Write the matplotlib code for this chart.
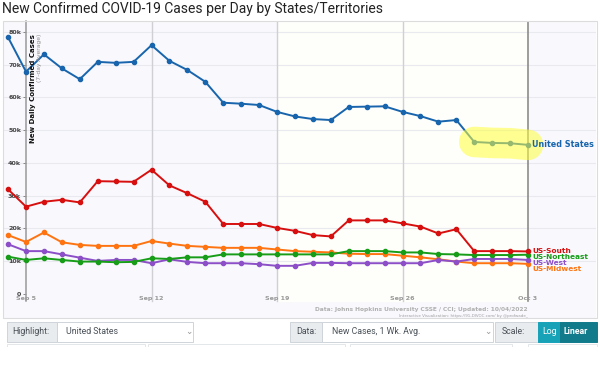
import numpy as np
import pandas as pd
import matplotlib
matplotlib.use('Agg')
import matplotlib.pyplot as plt
import matplotlib.dates as mdates
from matplotlib.patches import Rectangle

# Dades llegides del grafic (mitjana de 7 dies, nous casos per dia)
dates = pd.date_range('2022-09-04', '2022-10-03', freq='D')

us = [78.4, 67.9, 73.2, 68.9, 65.6, 70.9, 70.6, 70.9, 76.0, 71.2,
      68.4, 64.8, 58.4, 58.1, 57.7, 55.6, 54.2, 53.4, 53.1, 57.1,
      57.2, 57.3, 55.6, 54.3, 52.6, 53.1, 46.4, 46.1, 46.0, 45.5]
south = [31.9, 26.6, 28.1, 28.7, 27.9, 34.4, 34.3, 34.2, 37.9, 33.1,
         30.7, 28.1, 21.3, 21.3, 21.3, 20.1, 19.2, 17.9, 17.5, 22.4,
         22.4, 22.4, 21.5, 20.5, 18.4, 19.7, 13.0, 13.0, 13.0, 12.9]
northeast = [11.3, 10.3, 10.8, 10.3, 9.8, 9.8, 9.6, 9.7, 10.8, 10.6,
             11.1, 11.1, 12.0, 12.0, 12.0, 12.0, 12.0, 12.0, 12.0, 13.0,
             13.0, 13.0, 12.6, 12.6, 12.1, 12.0, 11.8, 11.8, 11.8, 11.9]
west = [15.1, 13.0, 13.0, 12.0, 11.0, 10.0, 10.3, 10.3, 9.3, 10.5,
        9.7, 9.3, 9.3, 9.3, 9.0, 8.5, 8.5, 9.4, 9.4, 9.3,
        9.3, 9.3, 9.3, 9.3, 10.3, 9.8, 10.6, 10.6, 10.6, 10.3]
midwest = [17.9, 15.8, 18.7, 15.7, 14.9, 14.6, 14.6, 14.6, 16.1, 15.3,
           14.6, 14.3, 14.0, 14.0, 14.0, 13.5, 13.0, 12.8, 12.6, 12.2,
           12.1, 12.1, 11.6, 11.1, 10.5, 9.8, 9.3, 9.3, 9.3, 9.1]

series = [('US-Midwest', midwest, '#ff7410'),
          ('US-West', west, '#8d4fc8'),
          ('US-Northeast', northeast, '#179d17'),
          ('US-South', south, '#d70f0f'),
          ('United States', us, '#1865ad')]
label_nudge = {'United States': 0, 'US-South': 0.4, 'US-Northeast': -1.4,
               'US-West': -2.2, 'US-Midwest': -3.7}   # punts, per no solapar

week_ticks = pd.to_datetime(['2022-09-05', '2022-09-12', '2022-09-19',
                             '2022-09-26', '2022-10-03'])
week_labels = ['Sep 5', 'Sep 12', 'Sep 19', 'Sep 26', 'Oct 3']
y_ticks = [0, 10, 20, 30, 40, 50, 60, 70, 80]
y_labels = ['0', '10k', '20k', '30k', '40k', '50k', '60k', '70k', '80k']

W, H = 600, 386
fig = plt.figure(figsize=(6, 3.86), dpi=100)
fig.patch.set_facecolor('white')


def px(x, y):
    return x / W, 1 - y / H


# Titol
fig.text(*px(2, 9), 'New Confirmed COVID-19 Cases per Day by States/Territories',
         fontsize=10, family='Roboto', color='#222222', va='center', ha='left')

# Eixos (zona del grafic)
ax = fig.add_axes([4 / W, 1 - 318 / H, 592 / W, 297 / H])
ax.set_facecolor('#f8f8fd')
day = pd.Timedelta(days=1)
ax.set_xlim(dates[0] - 0.227 * day, dates[0] + 32.79 * day)
ax.set_ylim(-7.46, 83.4)

ax.axvspan(week_ticks[2], week_ticks[4], ymin=0.058, color='#fefefa', zorder=0)
for yv in y_ticks[1:]:
    ax.axhline(yv, color='#e9e9f0', lw=0.8, zorder=1)
for d in week_ticks[1:4]:
    ax.axvline(d, ymin=0.058, color='#cfcfd4', lw=1, zorder=1)
ax.axvline(week_ticks[4], ymin=0.058, color='#8c8c8c', lw=1.2, zorder=1)

for sp in ['top', 'right', 'bottom']:
    ax.spines[sp].set_visible(False)
ax.spines['left'].set_position(('data', mdates.date2num(week_ticks[0])))
ax.spines['left'].set_color('#9a9a9a')
ax.spines['left'].set_linewidth(1.1)
ax.spines['left'].set_bounds(-2.26, 83.4)
ax.spines['bottom'].set_position(('data', 0))

ax.set_yticks(y_ticks)
ax.set_yticklabels(y_labels)
ax.set_xticks(week_ticks)
ax.set_xticklabels(week_labels)
ax.tick_params(axis='y', length=2.5, width=0.6, color='#777777', pad=1,
               labelsize=4.6, labelcolor='#444444')
ax.tick_params(axis='x', length=0, pad=2, labelsize=4.6, labelcolor='#999999')
for t in ax.get_xticklabels() + ax.get_yticklabels():
    t.set_fontweight('bold')

# Series
for name, vals, col in series:
    ax.plot(dates, vals, color=col, lw=1.4, marker='o', ms=3, zorder=3)
    ax.annotate(name, (dates[-1], vals[-1]), xytext=(3, label_nudge[name]),
                textcoords='offset points', va='center', ha='left',
                fontsize=5.3 if name != 'United States' else 5.8,
                fontweight='bold', color=col, zorder=5)

# Ressaltat groc sobre els ultims punts dels EUA
ax.plot(dates[-4:], us[-4:], color='#ffff3c', alpha=0.55, lw=22,
        solid_capstyle='round', zorder=4)

# Etiqueta eix Y
fig.text(*px(33, 34), 'New Daily Confirmed Cases', rotation=90, fontsize=5.0,
         fontweight='bold', color='#111111', ha='center', va='top')
fig.text(*px(40, 34), '(7-day Average)', rotation=90, fontsize=4.3,
         color='#8f8f8f', ha='center', va='top')

# Credits
fig.text(*px(528, 310), 'Data: Johns Hopkins University CSSE / CCI; Updated: 10/04/2022',
         fontsize=4.2, fontweight='bold', color='#b0b0b0', ha='right', va='center')
fig.text(*px(528, 316), 'Interactive Visualization: https://91-DIVOC.com/ by @profwade_',
         fontsize=2.9, color='#a0a0a0', ha='right', va='center')

# Marc del panell
fig.add_artist(Rectangle(px(3, 318), 594 / W, 297 / H, transform=fig.transFigure,
                         fill=False, ec='#dcdcdc', lw=0.8))


# Controls de sota
def box(x0, x1, y0, y1, fc, ec='#ced4da'):
    fig.add_artist(Rectangle(px(x0, y1), (x1 - x0) / W, (y1 - y0) / H,
                             transform=fig.transFigure, fc=fc, ec=ec, lw=0.7))


def label(x, y, s, **kw):
    fig.text(*px(x, y), s, fontsize=6.3, va='center',
             family=['Roboto', 'DejaVu Sans', 'Noto Sans CJK SC'], **kw)


box(7, 57, 322, 342, '#e9ecef')
box(57, 193, 322, 342, 'white')
label(12, 332, 'Highlight:', color='#495057')
label(66, 332, 'United States', color='#495057')
label(185, 331, '⌄', color='#999999')

box(290, 322, 322, 342, '#e9ecef')
box(322, 493, 322, 342, 'white')
label(296, 332, 'Data:', color='#495057')
label(332, 332, 'New Cases, 1 Wk. Avg.', color='#495057')
label(484, 331, '⌄', color='#999999')

box(495, 538, 322, 342, '#e9ecef')
box(538, 560, 322, 342, '#17a2b8', ec='#17a2b8')
box(560, 597, 322, 342, '#117a8b', ec='#117a8b')
label(502, 332, 'Scale:', color='#495057')
label(542, 332, 'Log', color='white')
label(564, 332, 'Linear', color='white', fontweight='bold')

# Segona fila de controls (nomes la vora superior es veu)
for x0, x1 in [(7, 145), (148, 345), (350, 512), (528, 597)]:
    box(x0, x1, 344, 352, 'white', ec='#e4e7ea')
fig.add_artist(Rectangle((0, 0), 1, 1 - 347 / H, transform=fig.transFigure,
                         fc='white', ec='none'))

fig.savefig('out.png', dpi=100)
